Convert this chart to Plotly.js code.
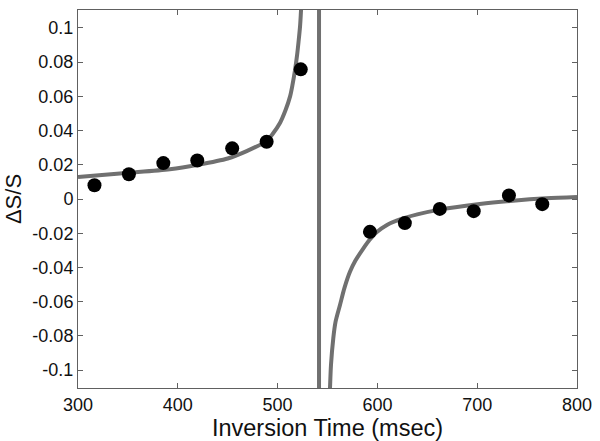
<!DOCTYPE html>
<html>
<head>
<meta charset="utf-8">
<script src="https://cdn.plot.ly/plotly-3.0.1.min.js"></script>
<style>html,body{margin:0;padding:0;background:#fff;}#chart{width:600px;height:441px;}</style>
</head>
<body>
<div id="chart"></div>
<script>
// Measured data points (Inversion Time in msec, ΔS/S)
const pointTimes = [316.5, 351, 385.5, 419.5, 454.5, 489, 523.2, 592.5, 627.5, 662.5, 696.5, 731.8, 765.2];
const pointValues = [0.0080, 0.0145, 0.0210, 0.0225, 0.0296, 0.0335, 0.0758, -0.0192, -0.0141, -0.0058, -0.0071, 0.0021, -0.0030];

// Fitted curve: left branch, jump across the asymptote, right branch
const leftTimes = [300, 345, 392, 420, 450, 469, 489, 495, 502.5, 508, 512.5, 515, 517.5, 519.5, 521, 522.5, 523.5, 524.5];
const leftValues = [0.0128, 0.0151, 0.0174, 0.0200, 0.0237, 0.0280, 0.0339, 0.0380, 0.0446, 0.0520, 0.0600, 0.0670, 0.0756, 0.0840, 0.0920, 0.1010, 0.1105, 0.1200];
const jumpTimes = [541.5, 541.5];
const jumpValues = [0.2, -0.2];
const rightTimes = [551.8, 552.5, 553.5, 555.8, 558, 562.5, 567, 572.5, 578, 585.8, 592, 599.2, 610, 619.2, 640, 662.5, 702.5, 735.8, 769.2, 800];
const rightValues = [-0.1200, -0.1105, -0.0970, -0.0814, -0.0720, -0.0620, -0.0520, -0.0426, -0.0360, -0.0290, -0.0240, -0.0194, -0.0150, -0.0126, -0.0090, -0.0062, -0.0029, -0.0010, 0.0004, 0.0012];

const xTicks = [300, 400, 500, 600, 700, 800];
const yTicks = [-0.1, -0.08, -0.06, -0.04, -0.02, 0, 0.02, 0.04, 0.06, 0.08, 0.1];
const yTickText = ['-0.1', '-0.08', '-0.06', '-0.04', '-0.02', '0', '0.02', '0.04', '0.06', '0.08', '0.1'];

const curveLine = {color: '#707070', width: 4, shape: 'spline', smoothing: 0.8};
const traces = [
  {x: leftTimes, y: leftValues, mode: 'lines', type: 'scatter', line: curveLine},
  {x: jumpTimes, y: jumpValues, mode: 'lines', type: 'scatter', line: {color: '#707070', width: 4}},
  {x: rightTimes, y: rightValues, mode: 'lines', type: 'scatter', line: curveLine},
  {x: pointTimes, y: pointValues, mode: 'markers', type: 'scatter',
   marker: {color: '#000', size: 14}}
];

const FONT = 'Liberation Sans, Arial, sans-serif';
const axisCommon = {
  showgrid: false, zeroline: false, showline: true, mirror: 'ticks',
  linecolor: '#606060', linewidth: 1, ticks: 'inside', ticklen: 5,
  tickcolor: '#606060', tickwidth: 1,
  tickfont: {family: FONT, size: 18, color: '#111'}
};

const layout = {
  width: 600, height: 441,
  margin: {l: 78, r: 23, t: 10, b: 53},
  paper_bgcolor: '#fff', plot_bgcolor: '#fff',
  showlegend: false,
  xaxis: Object.assign({}, axisCommon, {
    range: [300, 800], tickvals: xTicks, ticktext: xTicks.map(String),
    title: {text: 'Inversion Time (msec)', standoff: 0,
      font: {family: FONT, size: 23.5, color: '#111'}}
  }),
  yaxis: Object.assign({}, axisCommon, {
    range: [-0.1105, 0.1105], tickvals: yTicks, ticktext: yTickText,
    title: {text: 'ΔS/S', standoff: 4,
      font: {family: FONT, size: 22, color: '#111'}}
  })
};

Plotly.newPlot('chart', traces, layout, {displayModeBar: false, staticPlot: true});
</script>
</body>
</html>
